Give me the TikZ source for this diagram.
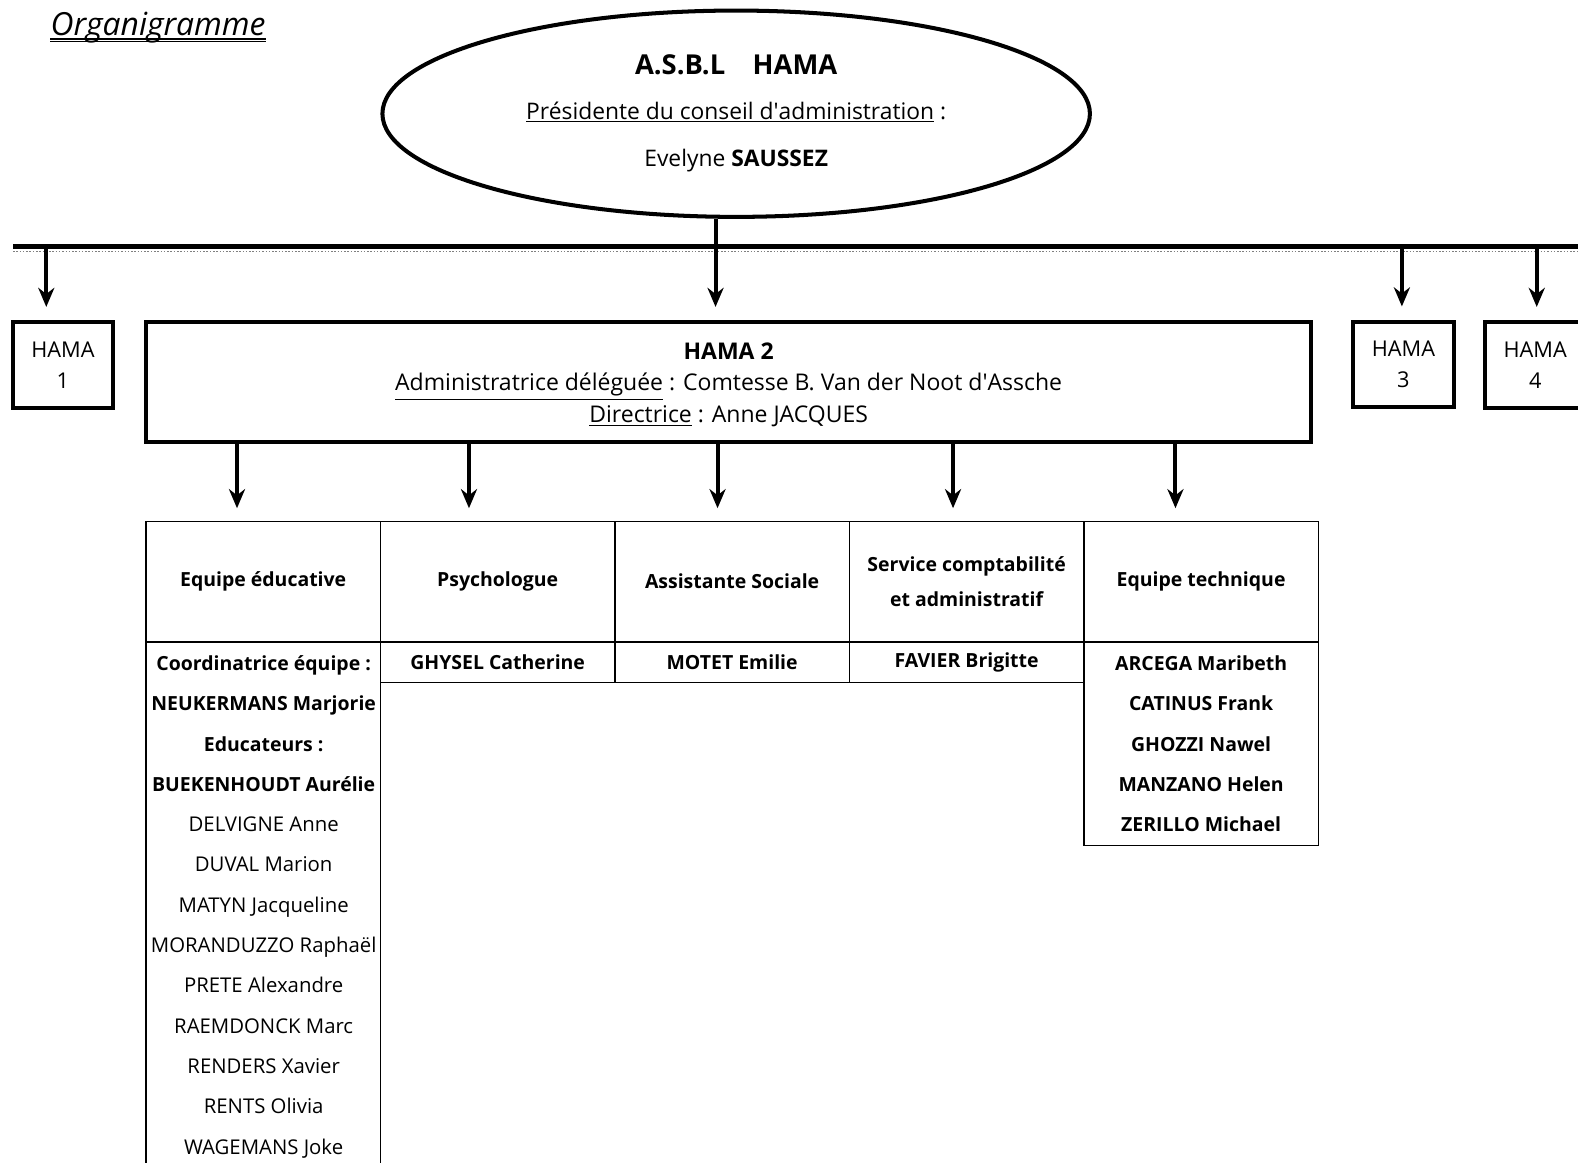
\documentclass[tikz,border=0pt]{standalone}
\usepackage{fontspec}
\setmainfont{Open Sans}
\usetikzlibrary{positioning, arrows.meta, shapes.geometric, calc}

\tikzset{
    bigbox/.style={draw, line width=0.8mm, rectangle, inner sep=0, outer sep=0, align=center},
    asblshape/.style={draw, line width=0.8mm, ellipse, minimum width=140.6mm, minimum height=41mm,
        align=center, font=\fontsize{12.9}{25}\selectfont},
    sitebox/.style={bigbox, minimum width=19.8mm, minimum height=17mm, font=\fontsize{12.3}{17.6}\selectfont},
    headcell/.style={draw, line width=0.3mm, minimum width=46.6mm, minimum height=24mm, inner sep=0,
        outer sep=0, align=center, font=\fontsize{11}{19.8}\selectfont\bfseries},
    namecell/.style={draw, line width=0.3mm, minimum width=46.6mm, minimum height=8mm, inner sep=0,
        outer sep=0, align=center, font=\fontsize{11}{22.8}\selectfont\bfseries},
    namelist/.style={inner sep=0, align=center, font=\fontsize{11.5}{22.8}\selectfont},
    downarrow/.style={line width=0.8mm, -{Stealth[length=3.8mm, width=3.2mm]}},
    cellrule/.style={line width=0.3mm}
}
\newcommand\bname[1]{{\fontsize{11}{22.8}\selectfont\bfseries #1}}

\begin{document}
\begin{tikzpicture}[x=0.2mm, y=-0.2mm]
    \useasboundingbox (0,0) rectangle (1568,1155);

    % title
    \node[inner sep=0, anchor=base west, font=\fontsize{18}{20}\selectfont\itshape] (title) at (50,35) {Organigramme};
    \draw[line width=0.5mm] ([yshift=-0.75mm]title.base west) -- ([yshift=-0.75mm]title.base east);
    \draw[line width=0.2mm] ([yshift=-1.3mm]title.base west) -- ([yshift=-1.3mm]title.base east);

    % top of the tree
    \node[asblshape] (asbl) at (731.5,113) {%
        {\fontsize{15.5}{25}\selectfont\bfseries A.S.B.L\quad HAMA}\\
        \underline{Présidente du conseil d\textquotesingle administration} :\\[2pt]
        Evelyne \textbf{SAUSSEZ}};

    % the four houses
    \node[sitebox] (h1) at (62.5,362.5) {HAMA\\1};
    \node[bigbox, minimum width=231.6mm, minimum height=23.8mm, font=\fontsize{13}{18}\selectfont] (h2) at (724,379.5)
        {\rule{0pt}{12.7pt}\textbf{HAMA 2}\\
         \underline{Administratrice déléguée} : Comtesse B. Van der Noot d\textquotesingle Assche\\
         \underline{Directrice} : Anne JACQUES};
    \node[sitebox, minimum width=20.2mm] (h3) at (1394.5,362) {HAMA\\3};
    \node[sitebox] (h4) at (1525.5,362.5) {HAMA\\4};

    % bus line
    \coordinate (busW) at (13,245);
    \coordinate (busE) at (1568,245);
    \draw[line width=0.9mm] (busW) -- (busE);
    \draw[gray, densely dotted, line width=0.3mm] ([yshift=-1mm]busW) -- ([yshift=-1mm]busE);
    \draw[line width=0.8mm] ([xshift=-4.1mm]asbl.south) -- ([xshift=-4.1mm]asbl.south |- busW);
    \foreach \h/\dx in {h1/-3.3mm, h2/-2.6mm, h3/-0.3mm, h4/0.3mm}
    {
        \draw[downarrow] ([xshift=\dx]\h.north |- busW) -- ([xshift=\dx, yshift=3mm]\h.north);
    }

    % table heads
    \foreach \i/\x/\txt in {1/145/{Equipe éducative}, 2/378/Psychologue, 3/611/{Assistante Sociale},
        4/844/{Service comptabilité\\ et administratif}, 5/1077/{Equipe technique}}
    {
        \node[headcell, anchor=north west] (c\i) at (\x,518) {\txt};
    }

    % arrows into the table
    \foreach \c/\dx in {c1/-5.2mm, c2/-5.7mm, c3/-2.9mm, c4/-2.7mm, c5/-5.1mm}
    {
        \draw[downarrow] ([xshift=\dx]\c.north |- h2.south) -- ([xshift=\dx, yshift=2.6mm]\c.north);
    }

    % names
    \node[namecell, anchor=north west] (n2) at (c2.south west) {GHYSEL Catherine};
    \node[namecell, anchor=north west] (n3) at (c3.south west) {MOTET Emilie};
    \node[namecell, anchor=north west] (n4) at (c4.south west) {FAVIER Brigitte};
    \node[namecell, anchor=north west, minimum height=40.4mm] (n5) at (c5.south west)
        {ARCEGA Maribeth\\ CATINUS Frank\\ GHOZZI Nawel\\ MANZANO Helen\\ ZERILLO Michael};
    \node[namelist] (n1) at (262,901)
        {\bname{Coordinatrice équipe :}\\
         \bname{NEUKERMANS Marjorie}\\
         \bname{Educateurs :}\\
         \bname{BUEKENHOUDT Aurélie}\\
         DELVIGNE Anne\\
         DUVAL Marion\\
         MATYN Jacqueline\\
         MORANDUZZO Raphaël\\
         PRETE Alexandre\\
         RAEMDONCK Marc\\
         RENDERS Xavier\\
         RENTS Olivia\\
         WAGEMANS Joke};
    \draw[cellrule] (c1.south west) -- ++(0,560);
    \draw[cellrule] (c1.south east) -- ++(0,560);
\end{tikzpicture}
\end{document}
